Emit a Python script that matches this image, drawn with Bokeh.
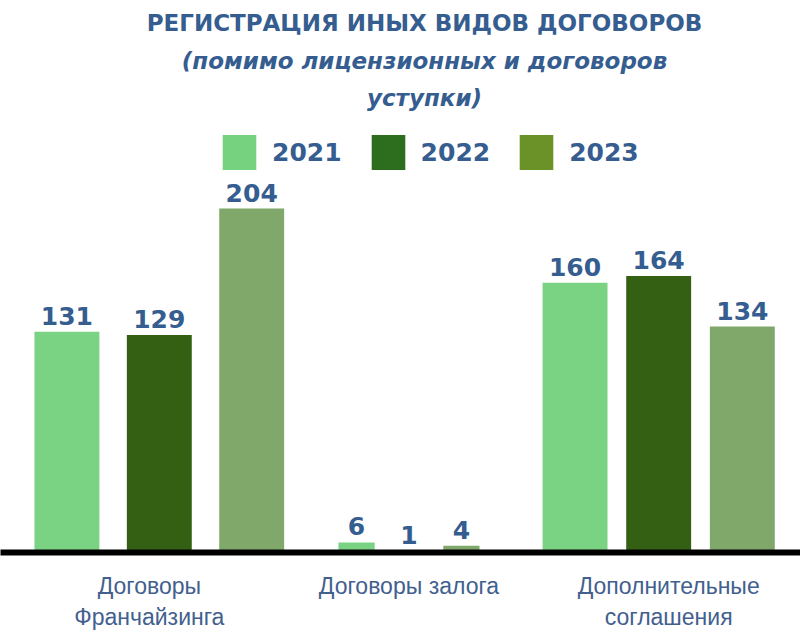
from bokeh.plotting import figure
from bokeh.models import (ColumnDataSource, Range1d, FixedTicker, Label, Legend, LegendItem)
from bokeh.embed import file_html
from bokeh.resources import INLINE

# ---- data ----
categories = ["Договоры\nФранчайзинга", "Договоры залога", "Дополнительные\nсоглашения"]
years = ["2021", "2022", "2023"]
values_2021 = [131, 6, 160]
values_2022 = [129, 1, 164]
values_2023 = [204, 4, 134]
title_line1 = "РЕГИСТРАЦИЯ ИНЫХ ВИДОВ ДОГОВОРОВ"
title_line2 = "(помимо лицензионных и договоров"
title_line3 = "уступки)"

# ---- style ----
bar_colors = ["#79d383", "#336012", "#80a86b"]
legend_colors = ["#77d27f", "#2c6e1e", "#6a9229"]
blue = "#355d8f"
label_blue = "#42608e"
spread = [0.37, 0.21, 0.335]
bar_w = [0.26, 0.145, 0.26]
tick_shift = [-0.04, 0.0, 0.04]
NAN = float("nan")

W, H = 800, 633
p = figure(width=W, height=H, output_backend="svg", toolbar_location=None,
           x_range=Range1d(-0.636, 2.568), y_range=Range1d(0, 327.4),
           min_border_left=0, min_border_right=0, min_border_top=0, min_border_bottom=81)
p.outline_line_color = None
p.grid.visible = False
p.yaxis.visible = False

series = [values_2021, values_2022, values_2023]
for j, vals in enumerate(series):
    xs = [i + (j - 1) * spread[i] for i in range(len(categories))]
    ws = [bar_w[i] for i in range(len(categories))]
    src = ColumnDataSource(dict(x=xs, top=vals, w=ws, lab=[str(v) for v in vals]))
    p.vbar(x="x", top="top", width="w", bottom=0, source=src,
           fill_color=bar_colors[j], line_color=None)
    p.text(x="x", y="top", text="lab", source=src, text_align="center",
           text_baseline="bottom", y_offset=-7, text_font_size="25px",
           text_font_style="bold", text_color=blue, text_font={"value": "DejaVu Sans"})

# legend via placeholder renderers (no visible marks in the plot)
items = []
for j, y in enumerate(years):
    r = p.quad(left=[NAN], right=[NAN], top=[NAN], bottom=[NAN],
               fill_color=legend_colors[j], line_color=None)
    items.append(LegendItem(label=y, renderers=[r]))
leg = Legend(items=items, orientation="horizontal", location=(218, 378),
             glyph_width=42, glyph_height=44, label_standoff=12, spacing=25,
             padding=0, margin=0, border_line_alpha=0, background_fill_alpha=0,
             label_text_font_size="25px", label_text_font_style="bold",
             label_text_color=blue, label_text_font="DejaVu Sans")
p.add_layout(leg, "center")

# axis
ticks = [i + tick_shift[i] for i in range(len(categories))]
p.xaxis.ticker = FixedTicker(ticks=ticks)
p.xaxis.major_label_overrides = {t: c for t, c in zip(ticks, categories)}
p.xaxis.axis_line_color = "black"
p.xaxis.axis_line_width = 6
p.xaxis.major_tick_line_color = None
p.xaxis.minor_tick_line_color = None
p.xaxis.major_label_standoff = 14
p.xaxis.major_label_text_font = "Liberation Sans"
p.xaxis.major_label_text_font_size = "23px"
p.xaxis.major_label_text_color = label_blue

# titles
for txt, yy, style in [(title_line1, 530, "bold"), (title_line2, 492, "bold italic"),
                       (title_line3, 455, "bold italic")]:
    p.add_layout(Label(x=424, y=yy, x_units="screen", y_units="screen", text=txt,
                       text_align="center", text_baseline="middle", text_font="DejaVu Sans",
                       text_font_size="23px", text_font_style=style, text_color=blue))

open("out.html", "w").write(file_html(p, INLINE))
